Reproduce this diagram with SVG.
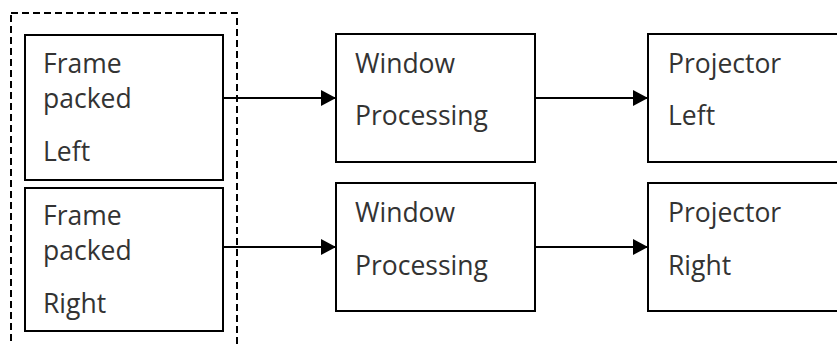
<svg xmlns="http://www.w3.org/2000/svg" width="837" height="345" viewBox="0 0 837 345">
<style>
.box{fill:#fff;stroke:#000;stroke-width:2}
.t{font-family:"Open Sans","Noto Sans",sans-serif;font-size:26.5px;fill:#333}
.c{stroke:#000;stroke-width:2;fill:none}
</style>
<defs>
<marker id="ah" markerUnits="userSpaceOnUse" markerWidth="15" markerHeight="16" refX="14" refY="8" orient="auto">
<path d="M0,0 L15,8 L0,16 Z" fill="#000"/>
</marker>
</defs>
<rect width="837" height="345" fill="#fff"/>
<g id="group-frame-packed">
<rect x="11" y="13" width="226" height="345" fill="none" stroke="#000" stroke-width="2" stroke-dasharray="7,4"/>
</g>
<g id="fp-left">
<rect class="box" x="25" y="35" width="198" height="145"/>
<text class="t" x="43" y="73">Frame</text>
<text class="t" x="43" y="108">packed</text>
<text class="t" x="43" y="161">Left</text>
</g>
<g id="fp-right">
<rect class="box" x="25" y="188" width="198" height="143"/>
<text class="t" x="43" y="225">Frame</text>
<text class="t" x="43" y="260">packed</text>
<text class="t" x="43" y="313">Right</text>
</g>
<g id="wp-top">
<rect class="box" x="336" y="34" width="199" height="128"/>
<text class="t" x="355" y="73">Window</text>
<text class="t" x="355" y="125">Processing</text>
</g>
<g id="wp-bottom">
<rect class="box" x="336" y="183" width="199" height="128"/>
<text class="t" x="355" y="222">Window</text>
<text class="t" x="355" y="275">Processing</text>
</g>
<g id="proj-left">
<rect class="box" x="648" y="34" width="200" height="128"/>
<text class="t" x="668" y="73">Projector</text>
<text class="t" x="668" y="125">Left</text>
</g>
<g id="proj-right">
<rect class="box" x="648" y="183" width="200" height="128"/>
<text class="t" x="668" y="222">Projector</text>
<text class="t" x="668" y="275">Right</text>
</g>
<g id="connectors">
<line class="c" x1="223" y1="98" x2="335" y2="98" marker-end="url(#ah)"/>
<line class="c" x1="223" y1="247" x2="335" y2="247" marker-end="url(#ah)"/>
<line class="c" x1="535" y1="98" x2="647" y2="98" marker-end="url(#ah)"/>
<line class="c" x1="535" y1="247" x2="647" y2="247" marker-end="url(#ah)"/>
</g>
</svg>
